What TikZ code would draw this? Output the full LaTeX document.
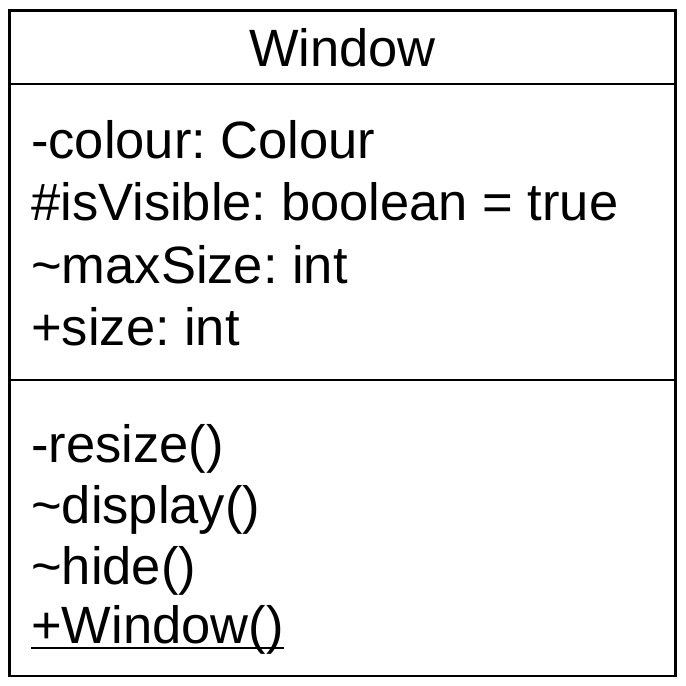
\documentclass[tikz,border=0pt]{standalone}
\usepackage{fontspec}
\setmainfont{Liberation Sans}
\frenchspacing
\begin{document}
\begin{tikzpicture}[x=1pt,y=-1pt,
  boxline/.style={line width=2.5pt, draw=black},
  member/.style={anchor=base west, inner sep=0pt, font=\fontsize{52.5}{62}\selectfont},
  title/.style={anchor=base, inner sep=0pt, font=\fontsize{52.5}{62}\selectfont}]
\useasboundingbox (0,0) rectangle (686,686);
\fill[white] (0,0) rectangle (686,686);
\coordinate (tl) at (9.5,10.5);
\coordinate (br) at (675.5,676);
\coordinate (d1l) at (9.5,84);
\coordinate (d1r) at (675.5,84);
\coordinate (d2l) at (9.5,380);
\coordinate (d2r) at (675.5,380);
\draw[boxline] (tl) rectangle (br);
\draw[boxline] (d1l) -- (d1r);
\draw[boxline] (d2l) -- (d2r);
\node[title] (name) at (342.5,66) {Window};
\node[member] (a1) at (31,158) {-colour: Colour};
\node[member] (a2) at (31,220) {\#isVisible: boolean = true};
\node[member] (a3) at (31,283) {\textasciitilde maxSize: int};
\node[member] (a4) at (31,345) {+size: int};
\node[member] (m1) at (31,462) {-resize()};
\node[member] (m2) at (31,523) {\textasciitilde display()};
\node[member] (m3) at (31,584) {\textasciitilde hide()};
\node[member] (m4) at (31,643) {+Window()};
\draw[line width=2pt] ([yshift=-5pt]m4.base west) -- ([yshift=-5pt]m4.base east);
\end{tikzpicture}
\end{document}
